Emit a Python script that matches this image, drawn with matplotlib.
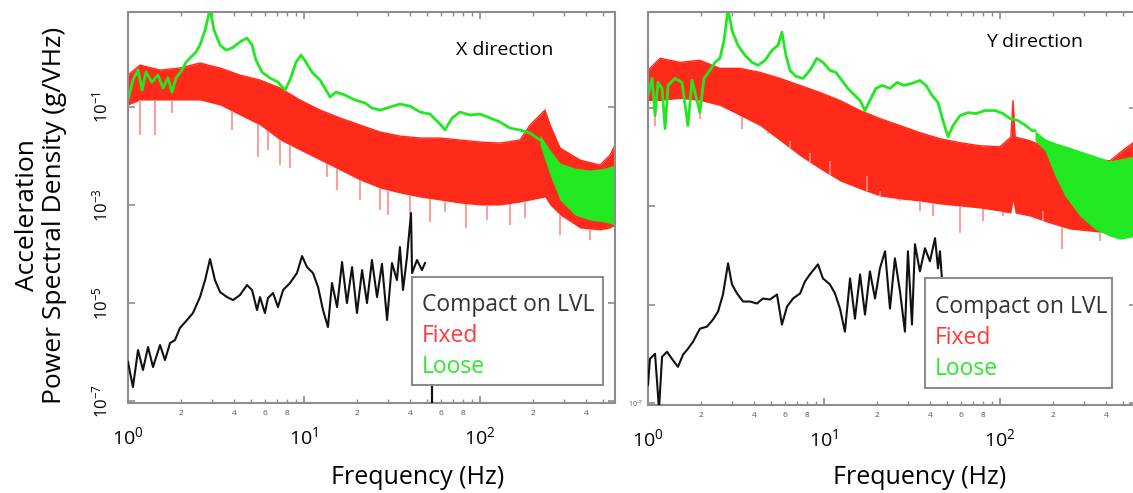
import numpy as np
import matplotlib
matplotlib.use('Agg')
import matplotlib.pyplot as plt
from matplotlib.patches import Rectangle
from matplotlib.ticker import FixedLocator, FuncFormatter

plt.rcParams['font.family'] = ['Open Sans', 'DejaVu Sans']
plt.rcParams['mathtext.default'] = 'regular'

# values, stored as log10(frequency in Hz) and log10(PSD in g/VHz)

# ---- X direction ----
loose_x_f = [0, 0.028, 0.057, 0.080, 0.102, 0.136, 0.170, 0.199, 0.227, 0.250, 0.273, 0.307, 0.330,
             0.352, 0.386, 0.409, 0.438, 0.466, 0.489, 0.523, 0.557, 0.591, 0.636, 0.676, 0.705, 0.727,
             0.761, 0.807, 0.852, 0.892, 0.920, 0.955, 0.983, 1.011, 1.045, 1.091, 1.125, 1.148, 1.182,
             1.233, 1.290, 1.347, 1.386, 1.432, 1.489, 1.545, 1.602, 1.659, 1.716, 1.773, 1.801, 1.841,
             1.886, 1.943, 2.0, 2.057, 2.114, 2.170, 2.227, 2.284, 2.341]
loose_x_p = [-0.857, -0.449, -0.245, -0.653, -0.286, -0.490, -0.347, -0.612, -0.408, -0.694, -0.408,
             -0.245, -0.082, 0.0, 0.122, 0.265, 0.571, 1.0, 0.571, 0.265, 0.163, 0.204, 0.327, 0.408,
             0.265, -0.041, -0.286, -0.408, -0.490, -0.653, -0.449, -0.082, 0.061, -0.082, -0.286,
             -0.449, -0.653, -0.796, -0.694, -0.755, -0.857, -0.918, -1.020, -1.061, -1.0, -0.939,
             -0.980, -1.102, -1.143, -1.347, -1.469, -1.224, -1.102, -1.163, -1.143, -1.224, -1.306,
             -1.429, -1.469, -1.531, -1.673]
loose_x_band_f = [2.341, 2.398, 2.455, 2.540, 2.625, 2.710, 2.767]
loose_x_band_hi = [-1.571, -1.878, -2.143, -2.245, -2.286, -2.245, -2.184]
loose_x_band_lo = [-1.776, -2.388, -2.898, -3.204, -3.306, -3.347, -3.408]

fixed_x_f = [0, 0.068, 0.182, 0.295, 0.409, 0.523, 0.636, 0.750, 0.864, 0.977, 1.091, 1.205, 1.318,
             1.432, 1.545, 1.659, 1.773, 1.886, 2.0, 2.114, 2.227, 2.284, 2.341, 2.369, 2.398, 2.455,
             2.568, 2.682, 2.739, 2.767]
fixed_x_hi = [-0.347, -0.143, -0.245, -0.204, -0.102, -0.204, -0.347, -0.449, -0.612, -0.857, -1.061,
              -1.224, -1.367, -1.510, -1.592, -1.633, -1.633, -1.673, -1.714, -1.735, -1.673, -1.367,
              -1.163, -1.061, -1.367, -1.837, -2.082, -2.184, -1.980, -1.776]
fixed_x_lo = [-0.959, -0.857, -0.857, -0.857, -0.857, -0.959, -1.163, -1.367, -1.673, -1.878, -2.082,
              -2.286, -2.490, -2.653, -2.755, -2.837, -2.898, -2.959, -3.0, -3.0, -2.939, -2.898,
              -2.857, -2.837, -3.0, -3.204, -3.469, -3.510, -3.469, -3.408]
fixed_x_spike_f = [0.068, 0.153, 0.250, 0.591, 0.739, 0.795, 0.864, 0.920, 1.131, 1.188, 1.318, 1.432,
                   1.477, 1.602, 1.716, 1.801, 1.920, 2.040, 2.170, 2.256, 2.455, 2.625]
fixed_x_spike_p = [-1.571, -1.571, -1.122, -1.469, -2.020, -1.878, -2.184, -2.245, -2.429, -2.694,
                   -2.898, -3.102, -3.204, -3.204, -3.347, -3.143, -3.469, -3.306, -3.408, -3.265,
                   -3.612, -3.714]

lvl_x_f = [0, 0.028, 0.057, 0.085, 0.114, 0.142, 0.182, 0.210, 0.239, 0.267, 0.295, 0.335, 0.369,
           0.409, 0.438, 0.466, 0.494, 0.523, 0.5625, 0.597, 0.636, 0.676, 0.705, 0.733, 0.75, 0.778,
           0.795, 0.824, 0.852, 0.881, 0.920, 0.960, 0.989, 1.017, 1.051, 1.080, 1.108, 1.136, 1.159,
           1.188, 1.216, 1.244, 1.273, 1.301, 1.330, 1.358, 1.386, 1.415, 1.443, 1.472, 1.5, 1.528,
           1.545, 1.5625, 1.585, 1.608, 1.614, 1.642, 1.670, 1.6875]
lvl_x_p = [-6.204, -6.714, -5.959, -6.367, -5.898, -6.306, -5.857, -6.163, -5.816, -5.755, -5.510,
           -5.347, -5.204, -4.878, -4.531, -4.102, -4.531, -4.776, -4.878, -4.939, -4.837, -4.633,
           -4.735, -5.143, -4.878, -5.204, -4.898, -4.796, -5.082, -4.735, -4.592, -4.388, -4.041,
           -4.265, -4.388, -4.673, -5.143, -5.490, -4.592, -5.082, -4.163, -5.0, -4.265, -5.204,
           -4.327, -5.0, -4.122, -4.878, -4.2, -5.347, -4.184, -4.531, -3.857, -4.735, -4.061,
           -3.163, -4.388, -4.122, -4.327, -4.184]
lvl_x_tail_f = [1.727, 1.727]
lvl_x_tail_p = [-6.714, -7.1]

# ---- Y direction ----
loose_y_f = [0, 0.023, 0.040, 0.057, 0.080, 0.097, 0.114, 0.153, 0.193, 0.227, 0.25, 0.295, 0.318,
             0.352, 0.381, 0.409, 0.432, 0.455, 0.477, 0.511, 0.551, 0.591, 0.625, 0.665, 0.705, 0.739,
             0.761, 0.784, 0.807, 0.841, 0.881, 0.920, 0.960, 0.994, 1.034, 1.068, 1.102, 1.136, 1.176,
             1.205, 1.233, 1.261, 1.295, 1.330, 1.375, 1.415, 1.455, 1.5, 1.545, 1.580, 1.614, 1.648,
             1.676, 1.705, 1.733, 1.773, 1.818, 1.864, 1.915, 1.972, 2.017, 2.057, 2.102, 2.148, 2.182,
             2.199]
loose_y_p = [-0.755, -0.408, -1.163, -0.490, -0.612, -1.429, -0.551, -0.408, -0.490, -1.367, -0.449,
             -1.102, -0.408, -0.245, -0.082, 0.0, 0.367, 1.0, 0.571, 0.265, 0.061, -0.082, -0.143,
             -0.041, 0.163, 0.265, 0.531, 0.061, -0.245, -0.367, -0.408, -0.245, 0.0, -0.082, -0.245,
             -0.286, -0.449, -0.612, -0.755, -0.857, -1.061, -0.857, -0.612, -0.551, -0.612, -0.490,
             -0.551, -0.510, -0.449, -0.551, -0.755, -0.898, -1.265, -1.592, -1.367, -1.163, -1.102,
             -1.122, -1.061, -1.061, -1.122, -1.224, -1.265, -1.367, -1.469, -1.469]
loose_y_band_f = [2.199, 2.256, 2.313, 2.369, 2.455, 2.540, 2.625, 2.682, 2.773]
loose_y_band_hi = [-1.469, -1.633, -1.714, -1.776, -1.878, -1.980, -2.082, -2.041, -1.980]
loose_y_band_lo = [-1.673, -1.878, -2.388, -2.796, -3.204, -3.469, -3.612, -3.673, -3.612]

fixed_y_f = [0, 0.068, 0.182, 0.295, 0.409, 0.523, 0.636, 0.75, 0.864, 0.977, 1.091, 1.205, 1.318,
             1.432, 1.545, 1.659, 1.773, 1.886, 2.0, 2.062, 2.074, 2.086, 2.170, 2.284, 2.398, 2.511,
             2.625, 2.710, 2.773]
fixed_y_hi = [-0.245, 0.0, -0.082, -0.041, -0.204, -0.204, -0.286, -0.408, -0.551, -0.694, -0.857,
              -1.061, -1.224, -1.367, -1.510, -1.633, -1.714, -1.776, -1.796, -1.600, -0.857, -1.600,
              -1.673, -1.837, -1.980, -2.041, -2.082, -1.837, -1.673]
fixed_y_lo = [-0.857, -0.857, -0.816, -0.857, -0.959, -1.163, -1.367, -1.673, -1.980, -2.245, -2.490,
              -2.653, -2.796, -2.857, -2.898, -2.959, -3.0, -3.041, -3.102, -3.143, -2.898, -3.143,
              -3.204, -3.347, -3.469, -3.510, -3.551, -3.510, -3.469]
fixed_y_spike_f = [0.040, 0.295, 0.534, 0.682, 0.807, 0.920, 1.034, 1.244, 1.318, 1.432, 1.545, 1.619,
                   1.773, 1.903, 2.017, 2.244, 2.352, 2.568]
fixed_y_spike_p = [-1.367, -1.224, -1.429, -1.531, -1.673, -1.918, -2.082, -2.388, -2.694, -2.898,
                   -3.102, -3.204, -3.551, -3.306, -3.204, -3.102, -3.878, -3.714]

lvl_y_f = [0, 0.011, 0.040, 0.0625, 0.080, 0.108, 0.136, 0.170, 0.199, 0.227, 0.256, 0.295, 0.335,
           0.369, 0.398, 0.426, 0.455, 0.477, 0.506, 0.540, 0.580, 0.619, 0.653, 0.693, 0.733, 0.761,
           0.790, 0.824, 0.864, 0.892, 0.920, 0.966, 0.994, 1.034, 1.0625, 1.091, 1.119, 1.148, 1.176,
           1.205, 1.233, 1.261, 1.290, 1.318, 1.347, 1.375, 1.403, 1.432, 1.460, 1.477, 1.5, 1.517,
           1.545, 1.574, 1.602, 1.631, 1.648, 1.659, 1.670]
lvl_y_p = [-6.633, -6.102, -6.0, -7.122, -6.061, -5.959, -6.102, -6.265, -6.020, -5.898, -5.755,
           -5.490, -5.449, -5.306, -5.143, -4.796, -4.163, -4.592, -4.776, -4.939, -4.939, -4.980,
           -4.878, -4.898, -4.796, -5.408, -5.041, -4.878, -4.776, -4.531, -4.388, -4.184, -4.469,
           -4.592, -4.776, -5.082, -5.551, -4.469, -5.286, -4.388, -5.204, -4.327, -4.878, -4.265,
           -3.918, -5.082, -4.061, -4.735, -5.551, -3.918, -5.408, -3.776, -4.327, -3.857, -4.122,
           -3.653, -4.265, -3.918, -4.469]

RED = '#ff2a1a'
RED_LIGHT = '#ff8c84'
GREEN = '#22e822'
BLACK = '#111111'
FRAME = '#8c8c8c'


def p10(v):
    return 10 ** np.asarray(v, dtype=float)


def minor_label(v, pos):
    d = int(round(v / 10 ** np.floor(np.log10(v) + 1e-9)))
    return str(d) if d in (2, 4, 6, 8) else ''


def panel(ax, fixed, spikes, loose, band, lvl, tail=None):
    ff, fhi, flo = fixed
    ax.fill_between(p10(ff), p10(flo), p10(fhi), color=RED, lw=0, zorder=1)
    ax.plot(p10(ff), p10(fhi), color=RED, lw=1.0, zorder=1)
    sf, sp = spikes
    top = np.interp(sf, ff, flo)
    ax.vlines(p10(sf), p10(sp), p10(top), color=RED_LIGHT, lw=1.2, zorder=1)

    lf, lp = loose
    ax.plot(p10(lf), p10(lp), color=GREEN, lw=2.0, zorder=2)
    bf, bhi, blo = band
    ax.fill_between(p10(bf), p10(blo), p10(bhi), color=GREEN, lw=0, zorder=2)

    kf, kp = lvl
    ax.plot(p10(kf), p10(kp), color=BLACK, lw=1.5, zorder=3)
    if tail:
        ax.plot(p10(tail[0]), p10(tail[1]), color=BLACK, lw=1.6, zorder=3)

    ax.set_xscale('log')
    ax.set_yscale('log')
    ax.set_xlim(1, 10 ** 2.767)
    ax.set_ylim(10 ** -7.04, 10 ** 0.94)
    for s in ax.spines.values():
        s.set_color(FRAME)
        s.set_linewidth(1.5)
    ax.xaxis.set_major_locator(FixedLocator([1, 10, 100]))
    ax.xaxis.set_minor_locator(FixedLocator([m * 10 ** e for e in range(3) for m in range(2, 10)]))
    ax.xaxis.set_major_formatter(FuncFormatter(lambda v, p: '$10^{%d}$' % round(np.log10(v))))
    ax.xaxis.set_minor_formatter(FuncFormatter(minor_label))
    ax.yaxis.set_major_locator(FixedLocator([1e-7, 1e-5, 1e-3, 1e-1]))
    ax.yaxis.set_minor_locator(FixedLocator([]))
    ax.tick_params(which='both', direction='in', top=True, right=True, color=FRAME)
    ax.tick_params(which='major', length=5, width=1.2)
    ax.tick_params(which='minor', length=3, width=1.0)
    ax.tick_params(axis='x', which='major', labelsize=14, pad=17)
    ax.tick_params(axis='x', which='minor', labelsize=6, pad=5, labelcolor='#555555')


def legend_box(ax, x0, y0, w, h):
    ax.add_patch(Rectangle((x0, y0), w, h, transform=ax.transAxes, fill=True, facecolor='white',
                           edgecolor=FRAME, lw=1.5, zorder=5))
    labels = ['Compact on LVL', 'Fixed', 'Loose']
    colors = ['#333333', '#ff3b3b', '#2ee82e']
    for i, (lab, col) in enumerate(zip(labels, colors)):
        ax.text(x0 + 0.02, y0 + h * (0.74 - 0.285 * i), lab, color=col, fontsize=16.5,
                transform=ax.transAxes, va='center', ha='left', zorder=6)


fig = plt.figure(figsize=(11.33, 4.93), dpi=100)
ax1 = fig.add_axes([128 / 1133, 1 - 403 / 493, 487 / 1133, 391 / 493])
ax2 = fig.add_axes([648 / 1133, 1 - 405 / 493, 488 / 1133, 393 / 493])

panel(ax1, (fixed_x_f, fixed_x_hi, fixed_x_lo), (fixed_x_spike_f, fixed_x_spike_p),
      (loose_x_f, loose_x_p), (loose_x_band_f, loose_x_band_hi, loose_x_band_lo),
      (lvl_x_f, lvl_x_p), (lvl_x_tail_f, lvl_x_tail_p))
panel(ax2, (fixed_y_f, fixed_y_hi, fixed_y_lo), (fixed_y_spike_f, fixed_y_spike_p),
      (loose_y_f, loose_y_p), (loose_y_band_f, loose_y_band_hi, loose_y_band_lo),
      (lvl_y_f, lvl_y_p))
ax2.set_xlim(1, 10 ** 2.773)

ax1.yaxis.set_major_formatter(FuncFormatter(lambda v, p: '$10^{%d}$' % round(np.log10(v))))
ax1.tick_params(axis='y', labelsize=12, pad=12, labelrotation=90)
for t in ax1.get_yticklabels():
    t.set_va('center')
ax2.yaxis.set_major_formatter(FuncFormatter(lambda v, p: '$10^{-7}$' if v < 1e-6 else ''))
ax2.tick_params(axis='y', labelsize=5, pad=3, labelcolor='#555555')

ax1.text(0.774, 0.903, 'X direction', transform=ax1.transAxes, fontsize=14, ha='center', va='center')
ax2.text(0.793, 0.924, 'Y direction', transform=ax2.transAxes, fontsize=14, ha='center', va='center')

legend_box(ax1, 0.583, 0.046, 0.392, 0.276)
legend_box(ax2, 0.568, 0.043, 0.383, 0.280)

fig.text(418 / 1133, 1 - 478 / 493, 'Frequency (Hz)', fontsize=18, ha='center', va='center')
fig.text(920 / 1133, 1 - 478 / 493, 'Frequency (Hz)', fontsize=18, ha='center', va='center')
fig.text(41 / 1133, 1 - 215 / 493, 'Acceleration\nPower Spectral Density (g/VHz)', fontsize=19,
         rotation=90, ha='center', va='center', linespacing=1.15)

fig.savefig('out.png', dpi=100)
